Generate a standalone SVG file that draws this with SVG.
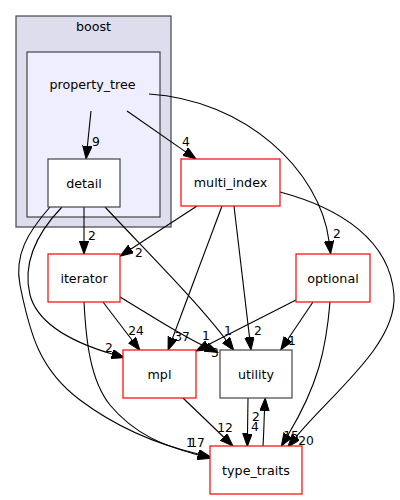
<svg xmlns="http://www.w3.org/2000/svg" width="400" height="500" viewBox="0 0 400 500">
<defs>
<marker id="arr" markerUnits="userSpaceOnUse" markerWidth="14" markerHeight="10" refX="0" refY="4.7" orient="auto">
<path d="M0,0 L13,4.7 L0,9.4 z" fill="#000" stroke="#000" stroke-width="1"/>
</marker>
<style>
.cl{stroke:#444;stroke-width:1.2}
.nd{fill:#fff;stroke-width:1.2}
.red{stroke:#ff0000}
.gry{stroke:#444}
.t{font-family:"DejaVu Sans","Liberation Sans",sans-serif;font-size:12.7px;fill:#000;text-anchor:middle}
.e{fill:none;stroke:#000;stroke-width:1.1;marker-end:url(#arr)}
.l{font-family:"DejaVu Sans","Liberation Sans",sans-serif;font-size:12.3px;fill:#000;text-anchor:middle}
</style>
</defs>
<rect width="400" height="500" fill="#fff"/>
<g id="cluster_boost">
<rect class="cl" x="16" y="16" width="155" height="211" fill="#ddddee"/>
<text class="t" x="93.5" y="31">boost</text>
</g>
<g id="cluster_property_tree">
<rect class="cl" x="27" y="52" width="133" height="165" fill="#eeeeff"/>
<text class="t" x="92.5" y="89">property_tree</text>
</g>
<g id="edges">
<path class="e" d="M91,111 L87.4,146"/>
<text class="l" x="96" y="145.5">9</text>
<path class="e" d="M127,111 L185.3,151.6"/>
<text class="l" x="186" y="145.5">4</text>
<path class="e" d="M149,94 C245,100 320,170 329,241"/>
<text class="l" x="337" y="238">2</text>
<path class="e" d="M84,207 L84,241"/>
<text class="l" x="92" y="240">2</text>
<path class="e" d="M105,207 C150,255 200,305 226,340"/>
<text class="l" x="228" y="335">1</text>
<path class="e" d="M62,207 C38,232 22,262 30,295 C38,325 75,343 112,354"/>
<text class="l" x="109" y="352">2</text>
<path class="e" d="M50,207 C28,232 14,255 20,285 C30,335 40,370 80,400 C120,430 160,445 198,454"/>
<path class="e" d="M84,302 C86,340 90,380 110,405 C135,435 165,446 198,455"/>
<text class="l" x="190" y="447">1</text>
<text class="l" x="197" y="447">17</text>
<path class="e" d="M197,206 L131,249"/>
<text class="l" x="139" y="257">2</text>
<path class="e" d="M222,206 L172.6,338"/>
<text class="l" x="182" y="341">37</text>
<path class="e" d="M234,206 L249.5,337.1"/>
<text class="l" x="258" y="335">2</text>
<path class="e" d="M280,192 C340,208 390,240 394,295 C397,345 330,395 296,437"/>
<text class="l" x="306" y="445">20</text>
<path class="e" d="M296,300 L207.6,345.1"/>
<text class="l" x="206" y="340">1</text>
<path class="e" d="M120,297 C150,315 180,335 206,347"/>
<text class="l" x="215" y="357">3</text>
<path class="e" d="M313,302 L288,339"/>
<text class="l" x="292" y="345">1</text>
<path class="e" d="M330,302 C326,350 318,385 288,435"/>
<text class="l" x="291" y="440">15</text>
<path class="e" d="M103,302 L132,340"/>
<text class="l" x="136" y="335">24</text>
<path class="e" d="M183,398 L223.6,437"/>
<text class="l" x="225" y="432">12</text>
<path class="e" d="M248,398 L247.5,433.5"/>
<text class="l" x="255" y="431">4</text>
<path class="e" d="M263,446 C264,430 264,420 264.5,411"/>
<text class="l" x="256" y="421">2</text>
</g>
<g id="detail">
<rect class="nd gry" x="48" y="159" width="72" height="48"/>
<text class="t" x="84" y="187.5">detail</text>
</g>
<g id="multi_index">
<rect class="nd red" x="181" y="159" width="99" height="47"/>
<text class="t" x="230.5" y="187">multi_index</text>
</g>
<g id="optional">
<rect class="nd red" x="296" y="254" width="74" height="48"/>
<text class="t" x="333" y="282.5">optional</text>
</g>
<g id="iterator">
<rect class="nd red" x="48" y="254" width="72" height="48"/>
<text class="t" x="84" y="282.5">iterator</text>
</g>
<g id="mpl">
<rect class="nd red" x="123" y="350" width="73" height="48"/>
<text class="t" x="159.5" y="378.5">mpl</text>
</g>
<g id="utility">
<rect class="nd gry" x="220" y="350" width="72" height="48"/>
<text class="t" x="256" y="378.5">utility</text>
</g>
<g id="type_traits">
<rect class="nd red" x="210" y="446" width="92" height="48"/>
<text class="t" x="256" y="474.5">type_traits</text>
</g>
</svg>
